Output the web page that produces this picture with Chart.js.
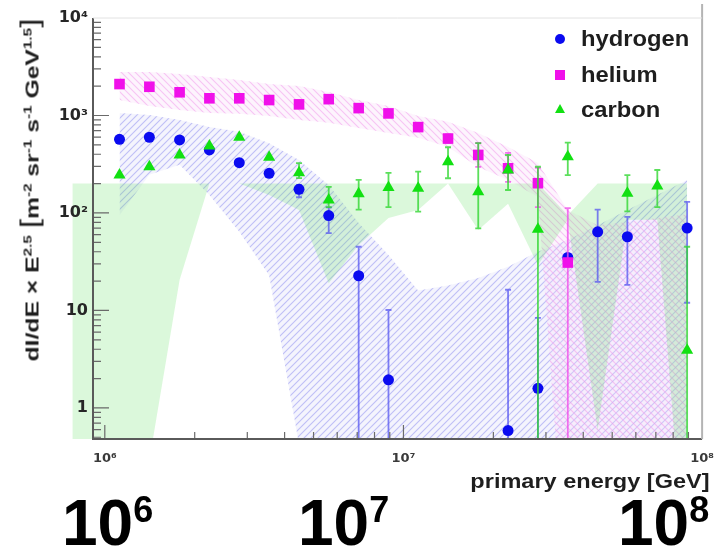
<!DOCTYPE html>
<html>
<head>
<meta charset="utf-8">
<script src="https://cdn.jsdelivr.net/npm/chart.js@4.4.1/dist/chart.umd.min.js"></script>
<style>
  html, body { margin: 0; padding: 0; background: #fff; }
  #wrap { position: relative; width: 726px; height: 554px; overflow: hidden;
          font-family: "Liberation Sans", Arial, Helvetica, sans-serif; }
  #plot { position: absolute; left: 0; top: 0; width: 726px; height: 554px; filter: blur(0.5px); }
  #plot canvas { position: absolute; left: 0; top: 0; }
  .txt { position: absolute; font-weight: bold; color: #1e1e1e; white-space: nowrap; }
  .txt sup { font-size: 0.62em; vertical-align: 0.6em; line-height: 0; }
  .leg { font-size: 22px; line-height: 22px; transform-origin: left center; transform: scaleX(1.08); }
  .mk { position: absolute; }
  #ytitle { left: 31px; top: 190px; font-size: 19px; line-height: 24px;
            transform: translate(-50%, -50%) rotate(-90deg) scaleX(1.3); }
  #ytitle .br { font-size: 1.35em; font-weight: normal; }
  #xtitle { right: 16px; top: 470px; font-size: 21px; line-height: 22px;
            transform-origin: right center; transform: scaleX(1.12); }
  .big { position: absolute; top: 491px; font-size: 64px; line-height: 64px; font-weight: bold;
         color: #000; white-space: nowrap; }
  .big span { font-size: 36px; position: relative; top: -23px; }
</style>
</head>
<body>
<div id="wrap">
  <div id="plot">
    <canvas id="c" width="726" height="554"></canvas>
    <div class="txt" id="ytitle">dI/dE × E<sup>2.5</sup> <span class="br">[</span>m<sup>-2</sup> sr<sup>-1</sup> s<sup>-1</sup> GeV<sup>1.5</sup><span class="br">]</span></div>
    <div class="txt" id="xtitle">primary energy [GeV]</div>
    <div class="mk" style="left:555px;top:34px;width:10px;height:10px;border-radius:50%;background:#0a0af0"></div>
    <div class="txt leg" style="left:581px;top:28px">hydrogen</div>
    <div class="mk" style="left:555px;top:70px;width:10px;height:10px;background:#f010ea"></div>
    <div class="txt leg" style="left:581px;top:64px">helium</div>
    <div class="mk" style="left:555px;top:104px;width:10px;height:9px;background:#12e012;clip-path:polygon(50% 0,100% 100%,0 100%)"></div>
    <div class="txt leg" style="left:581px;top:99px">carbon</div>
  </div>
  <div class="big" style="left:62px">10<span>6</span></div>
  <div class="big" style="left:298px">10<span>7</span></div>
  <div class="big" style="left:618px">10<span>8</span></div>
</div>

<script>
// Energy bin centres [GeV]
const energy = [1.12e6, 1.41e6, 1.78e6, 2.24e6, 2.82e6, 3.55e6, 4.47e6, 5.62e6, 7.08e6, 8.91e6,
                1.12e7, 1.41e7, 1.78e7, 2.24e7, 2.82e7, 3.55e7, 4.47e7, 5.62e7, 7.08e7, 8.91e7];

// Flux values, dI/dE x E^2.5
const hydrogen = [570, 598, 561, 443, 328, 255, 175, 94, 22.7, 1.94,
                  null, null, null, 0.585, 1.59, 35, 64, 57, null, 70];
const hydrogenErrLow  = [null, null, null, null, null, null, 145, 62, 0.01, 0.01,
                         null, null, null, 0.01, 0.1, null, 19.6, 18.3, null, 12];
const hydrogenErrHigh = [null, null, null, null, null, null, 194, 114, 45, 10.1,
                         null, null, null, 16.3, 8.4, null, 108, 91, null, 130];

const helium = [2100, 1970, 1730, 1500, 1500, 1440, 1300, 1470, 1190, 1050,
                760, 580, 394, 287, 202, 31, null, null, null, null];
const heliumErrLow  = [null, null, null, null, null, null, null, null, null, null,
                       null, 525, 297, 208, 115, 0.01, null, null, null, null];
const heliumErrHigh = [null, null, null, null, null, null, null, null, null, null,
                       null, 640, 522, 413, 290, 112, null, null, null, null];

const carbon = [245, 298, 393, 487, 598, 373, 259, 136, 157, 183,
                179, 336, 165, 276, 68, 378, null, 159, 189, 3.9];
const carbonErrLow  = [null, null, null, null, null, null, 228, 115, 108, 115,
                       103, 227, 69.5, 172, 0.01, 245, null, 104, 115, 0.01];
const carbonErrHigh = [null, null, null, null, null, null, 325, 185, 218, 258,
                       266, 472, 520, 393, 298, 527, null, 245, 276, 45];

// Systematic uncertainty bands
const heliumBandHigh = [2800, 2800, 2670, 2480, 2310, 2100, 2010, 1740, 1440, 1250,
                        990, 860, 660, 475, 326, 107, 75, 81, 89, 97];
const heliumBandLow  = [1440, 1250, 1140, 1060, 1040, 990, 900, 840, 745, 660,
                        590, 475, 297, 218, 146, 0.01, 0.01, 0.01, 0.01, 0.01];

const hydrogenBandHigh = [1060, 1010, 900, 760, 680, 520, 350, 194, 79, 37,
                          16, 18, 21.5, 28, 40, 53, 75, 107, 153, 218];
const hydrogenBandLow  = [95, 246, 312, 153, 64, 23, 0.42, 0.01, 0.01, 0.01,
                          0.01, 0.01, 0.01, 0.01, 0.01, 0.01, 0.01, 0.01, 0.01, 0.01];

const carbonBandEnergy = [7.8e5, 1.12e6, 1.41e6, 1.78e6, 2.24e6, 2.82e6, 3.55e6, 4.47e6, 5.62e6, 7.08e6, 8.91e6,
                          1.12e7, 1.41e7, 1.78e7, 2.24e7, 2.82e7, 3.55e7, 4.47e7, 5.62e7, 7.08e7, 8.91e7];
const carbonBandHigh = [200, 200, 200, 200, 200, 200, 200, 200, 200, 200, 200,
                        200, 200, 200, 200, 200, 95, 200, 200, 200, 200];
const carbonBandLow  = [0.23, 0.23, 0.29, 20.5, 200, 200, 153, 107, 19, 47, 89,
                        107, 200, 67, 124, 29, 85, 0.59, 85, 85, 0.011];

// Axis ticks
const yTickValues = [1, 10, 100, 1000, 10000];
const yTickLabels = ['1', '10', '10²', '10³', '10⁴'];
const xTickValues = [1e6, 1e7, 1e8];
const xTickLabels = ['10⁶', '10⁷', '10⁸'];

const X_MIN = 9.13e5, X_MAX = 1e8, Y_MIN = 0.48, Y_MAX = 1e4;

// Diagonal hatch tile: light tint plus thin stripes
function hatch(tint, color, rising) {
  const s = 7;
  const c = document.createElement('canvas');
  c.width = s; c.height = s;
  const g = c.getContext('2d');
  g.fillStyle = tint;
  g.fillRect(0, 0, s, s);
  g.strokeStyle = color;
  g.lineWidth = 1.1;
  g.beginPath();
  if (rising) {
    g.moveTo(0, s); g.lineTo(s, 0);
    g.moveTo(-s / 2, s / 2); g.lineTo(s / 2, -s / 2);
    g.moveTo(s / 2, s * 1.5); g.lineTo(s * 1.5, s / 2);
  } else {
    g.moveTo(0, 0); g.lineTo(s, s);
    g.moveTo(-s / 2, s / 2); g.lineTo(s / 2, s * 1.5);
    g.moveTo(s / 2, -s / 2); g.lineTo(s * 1.5, s / 2);
  }
  g.stroke();
  return g.createPattern(c, 'repeat');
}

const GREEN_FILL = 'rgba(90, 225, 90, 0.22)';

function series(vals, lo, hi) {
  const out = [];
  vals.forEach((v, i) => {
    if (v == null) return;
    out.push({ x: energy[i], y: v, lo: lo[i], hi: hi[i] });
  });
  return out;
}
function band(xs, vals) {
  return vals.map((v, i) => ({ x: xs[i], y: v }));
}

const bandStyle = { type: 'line', borderWidth: 0, pointRadius: 0, tension: 0 };

// Vertical error bars with end caps, drawn just before each marker set
const errorBars = {
  id: 'errorBars',
  beforeDatasetDraw(chart, args) {
    const ds = chart.data.datasets[args.index];
    if (!ds.errorColor) return;
    const { ctx, chartArea: a, scales: { x, y } } = chart;
    ctx.save();
    ctx.beginPath();
    ctx.rect(a.left, a.top, a.right - a.left, a.bottom - a.top);
    ctx.clip();
    ctx.strokeStyle = ds.errorColor;
    ctx.lineWidth = 1.8;
    ds.data.forEach(p => {
      if (p.lo == null || p.hi == null) return;
      const px = x.getPixelForValue(p.x);
      const y1 = y.getPixelForValue(p.hi);
      const y2 = y.getPixelForValue(p.lo);
      ctx.beginPath();
      ctx.moveTo(px, y1); ctx.lineTo(px, y2);
      ctx.moveTo(px - 3, y1); ctx.lineTo(px + 3, y1);
      ctx.moveTo(px - 3, y2); ctx.lineTo(px + 3, y2);
      ctx.stroke();
    });
    ctx.restore();
  }
};

// Carbon band continues left of the frame edge
const bandOverhang = {
  id: 'bandOverhang',
  beforeDatasetsDraw(chart) {
    const { ctx, chartArea: a, scales: { x, y } } = chart;
    ctx.save();
    ctx.beginPath();
    ctx.rect(0, a.top, a.left, a.bottom - a.top);
    ctx.clip();
    ctx.beginPath();
    carbonBandEnergy.forEach((e, i) => {
      const px = x.getPixelForValue(e), py = y.getPixelForValue(carbonBandHigh[i]);
      if (i === 0) ctx.moveTo(px, py); else ctx.lineTo(px, py);
    });
    for (let i = carbonBandEnergy.length - 1; i >= 0; i--) {
      ctx.lineTo(x.getPixelForValue(carbonBandEnergy[i]), y.getPixelForValue(carbonBandLow[i]));
    }
    ctx.closePath();
    ctx.fillStyle = GREEN_FILL;
    ctx.fill();
    ctx.restore();
  }
};

// Frame with inward ticks
const frame = {
  id: 'frame',
  afterDatasetsDraw(chart) {
    const { ctx, chartArea: a, scales: { x, y } } = chart;
    ctx.save();
    ctx.strokeStyle = '#6a6a6a';
    ctx.lineWidth = 1.2;
    ctx.beginPath();
    for (let d = 0.1; d <= 1000; d *= 10) {
      for (let m = 1; m <= 9; m++) {
        const v = d * m;
        if (v < Y_MIN || v > Y_MAX) continue;
        const py = y.getPixelForValue(v);
        const len = m === 1 ? 16 : 8;
        ctx.moveTo(a.left, py); ctx.lineTo(a.left + len, py);
      }
    }
    for (let d = 1e5; d <= 1e7; d *= 10) {
      for (let m = 1; m <= 9; m++) {
        const v = d * m;
        if (v < X_MIN || v > X_MAX) continue;
        const px = x.getPixelForValue(v);
        const len = m === 1 ? 14 : 7;
        ctx.moveTo(px, a.bottom); ctx.lineTo(px, a.bottom - len);
      }
    }
    ctx.stroke();
    ctx.lineWidth = 2;
    ctx.strokeStyle = '#5a5a5a';
    ctx.beginPath();
    ctx.moveTo(a.left, a.top); ctx.lineTo(a.left, a.bottom); ctx.lineTo(a.right, a.bottom);
    ctx.stroke();
    ctx.strokeStyle = '#b4b4b4';
    ctx.beginPath();
    ctx.moveTo(a.right, a.bottom); ctx.lineTo(a.right, a.top - 14);
    ctx.stroke();
    ctx.strokeStyle = '#e2e2e2';
    ctx.lineWidth = 1;
    ctx.beginPath();
    ctx.moveTo(a.left, a.top); ctx.lineTo(a.right, a.top);
    ctx.stroke();
    ctx.restore();
  }
};

new Chart(document.getElementById('c'), {
  type: 'line',
  data: {
    datasets: [
      { label: 'carbon', data: series(carbon, carbonErrLow, carbonErrHigh), showLine: false,
        pointStyle: 'triangle', pointRadius: 7, backgroundColor: '#12e012', borderColor: '#12e012',
        pointBorderWidth: 0, errorColor: 'rgba(50, 215, 50, 0.8)', order: 1 },
      { label: 'helium', data: series(helium, heliumErrLow, heliumErrHigh), showLine: false,
        pointStyle: 'rect', pointRadius: 7.5, backgroundColor: '#f010ea', borderColor: '#f010ea',
        pointBorderWidth: 0, errorColor: 'rgba(240, 80, 235, 0.8)', order: 2 },
      { label: 'hydrogen', data: series(hydrogen, hydrogenErrLow, hydrogenErrHigh), showLine: false,
        pointStyle: 'circle', pointRadius: 5.5, backgroundColor: '#0a0af0', borderColor: '#0a0af0',
        pointBorderWidth: 0, errorColor: 'rgba(85, 85, 240, 0.75)', order: 3 },

      Object.assign({ label: 'carbon sys', data: band(carbonBandEnergy, carbonBandHigh),
        fill: '+1', backgroundColor: GREEN_FILL, order: 6 }, bandStyle),
      Object.assign({ label: 'carbon sys low', data: band(carbonBandEnergy, carbonBandLow),
        fill: false, order: 6 }, bandStyle),

      Object.assign({ label: 'helium sys', data: band(energy, heliumBandHigh),
        fill: '+1', backgroundColor: hatch('rgba(250, 220, 248, 0.3)', 'rgba(242, 150, 236, 0.5)', false),
        order: 7 }, bandStyle),
      Object.assign({ label: 'helium sys low', data: band(energy, heliumBandLow),
        fill: false, order: 7 }, bandStyle),

      Object.assign({ label: 'hydrogen sys', data: band(energy, hydrogenBandHigh),
        fill: '+1', backgroundColor: hatch('rgba(220, 220, 250, 0.3)', 'rgba(140, 140, 240, 0.5)', true),
        order: 8 }, bandStyle),
      Object.assign({ label: 'hydrogen sys low', data: band(energy, hydrogenBandLow),
        fill: false, order: 8 }, bandStyle)
    ]
  },
  options: {
    responsive: false,
    devicePixelRatio: 1,
    animation: false,
    events: [],
    layout: { padding: { top: 18, right: 15, bottom: 0, left: 0 } },
    plugins: { legend: { display: false }, tooltip: { enabled: false } },
    scales: {
      x: {
        type: 'logarithmic', min: X_MIN, max: X_MAX,
        afterFit: s => { s.height = 115; },
        afterBuildTicks: s => { s.ticks = xTickValues.map(v => ({ value: v })); },
        grid: { display: false, drawTicks: false },
        border: { display: false },
        ticks: { callback: (v, i) => xTickLabels[i], autoSkip: false, maxRotation: 0,
                 padding: 12, color: '#3a3a3a', z: 1,
                 font: { family: 'DejaVu Sans', weight: 'bold', size: 13 } }
      },
      y: {
        type: 'logarithmic', min: Y_MIN, max: Y_MAX,
        afterFit: s => { s.width = 93; },
        afterBuildTicks: s => { s.ticks = yTickValues.map(v => ({ value: v })); },
        grid: { display: false, drawTicks: false },
        border: { display: false },
        ticks: { callback: (v, i) => yTickLabels[i], autoSkip: false,
                 padding: 5, color: '#262626', z: 1,
                 font: { family: 'DejaVu Sans', weight: 'bold', size: 16 } }
      }
    }
  },
  plugins: [errorBars, bandOverhang, frame]
});
</script>
</body>
</html>
